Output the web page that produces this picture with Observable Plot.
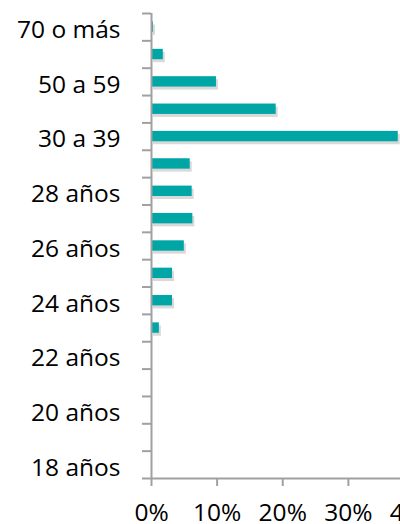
<!DOCTYPE html>
<html>
<head>
<meta charset="utf-8">
<script src="https://cdn.jsdelivr.net/npm/d3@7"></script>
<script src="https://cdn.jsdelivr.net/npm/@observablehq/plot@0.6"></script>
<style>
  html, body { margin: 0; padding: 0; background: #fff; overflow: hidden; }
</style>
</head>
<body>
<div id="chart"></div>
<script>
const categories = ["18 años","19 años","20 años","21 años","22 años","23 años","24 años","25 años","26 años","27 años","28 años","29 años","30 a 39","40 a 49","50 a 59","60 a 69","70 o más"];
const values = [0, 0, 0, 0, 0, 1.2, 3.2, 3.2, 5.0, 6.3, 6.2, 5.9, 37.6, 19.0, 9.9, 1.8, 0.3];
const labelled = ["18 años","20 años","22 años","24 años","26 años","28 años","30 a 39","50 a 59","70 o más"];
const xTicks = [0, 10, 20, 30, 40];

const data = categories.map((c, i) => ({cat: c, i, value: values[i]}));
const boundaries = d3.range(0, categories.length + 1);
const labelPos = labelled.map(l => categories.indexOf(l) + 0.5);

const axisColor = "#a0a0a0";
const barColor = "#00a6a6";

const chart = Plot.plot({
  width: 400,
  height: 524,
  marginLeft: 151,
  marginRight: 0,
  marginTop: 13,
  marginBottom: 46,
  x: {domain: [0, 40], range: [151, 413.5]},
  y: {type: "linear", domain: [0, categories.length], range: [478, 13]},
  style: {fontFamily: "'Open Sans', sans-serif", fontSize: "24.5px", color: "#000", overflow: "hidden", background: "#fff"},
  marks: [
    Plot.rectX(data, {x: "value", y1: d => d.i + 0.31, y2: d => d.i + 0.69, fill: "#000", fillOpacity: 0.15, dx: 2, dy: 3}),
    Plot.rectX(data, {x: "value", y1: d => d.i + 0.31, y2: d => d.i + 0.69, fill: barColor}),
    Plot.axisY({ticks: boundaries, tickSize: 9, tickFormat: () => "", stroke: axisColor, strokeWidth: 2, label: null}),
    Plot.axisY({ticks: labelPos, tickSize: 0, tickPadding: 31, dy: 3, tickFormat: d => categories[d - 0.5], fill: "#000", label: null}),
    Plot.ruleX([0], {stroke: axisColor, strokeWidth: 2}),
    Plot.ruleY([0], {stroke: axisColor, strokeWidth: 2}),
    Plot.axisX({ticks: xTicks, tickSize: 8, tickPadding: 17, tickFormat: d => d + "%", stroke: axisColor, strokeWidth: 2, fill: "#000", label: null})
  ]
});
document.getElementById("chart").appendChild(chart);
</script>
</body>
</html>
